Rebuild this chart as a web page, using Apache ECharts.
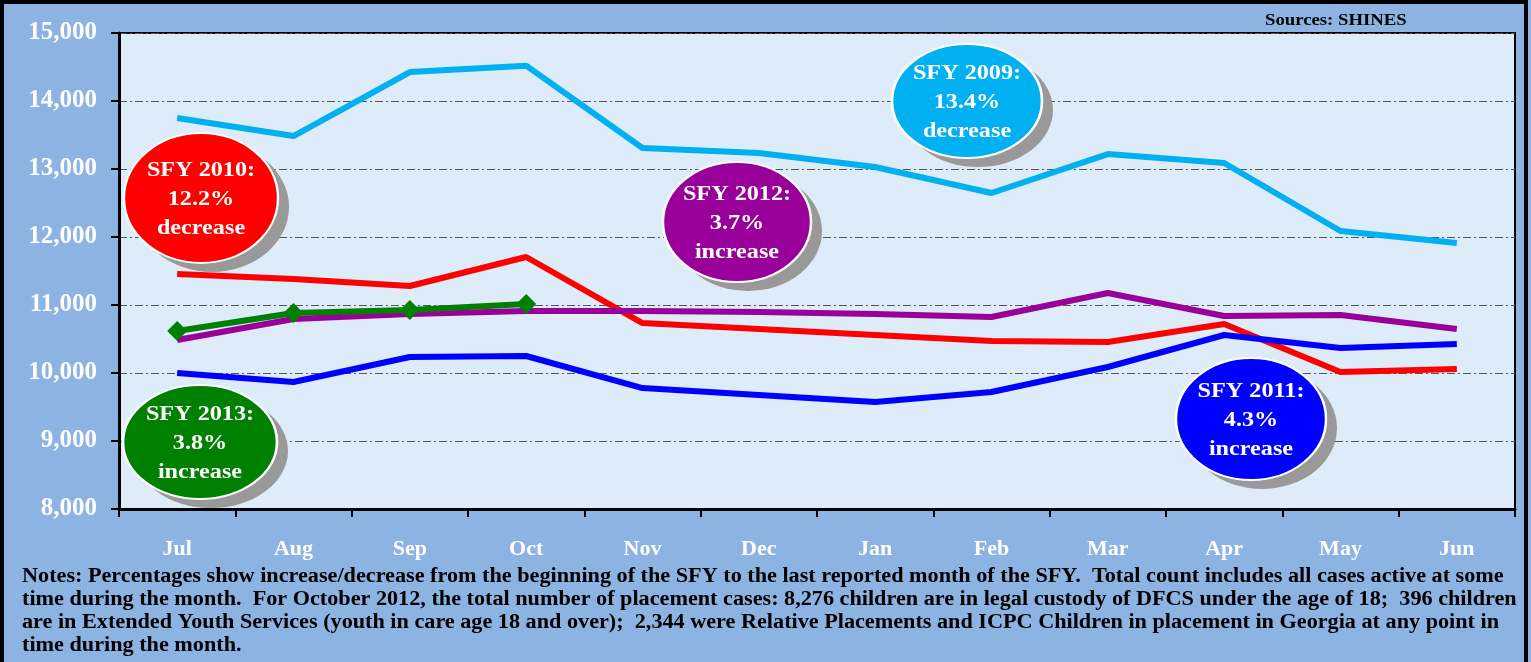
<!DOCTYPE html>
<html><head><meta charset="utf-8">
<script src="https://cdn.jsdelivr.net/npm/echarts@6/dist/echarts.min.js"></script>
<style>html,body{margin:0;padding:0;background:#8DB3E2;}#c{width:1531px;height:662px;}</style>
</head><body><div id="c"></div>
<script>
const months = ['Jul','Aug','Sep','Oct','Nov','Dec','Jan','Feb','Mar','Apr','May','Jun'];
const sfy2009 = [13750,13485,14426,14520,13309,13235,13030,12647,13220,13088,12088,11912];
const sfy2010 = [11456,11382,11279,11706,10735,10647,10559,10471,10456,10721,10015,10059];
const sfy2011 = [10000,9868,10235,10250,9779,9676,9574,9721,10088,10559,10368,10426];
const sfy2012 = [10485,10794,10868,10912,10912,10897,10868,10824,11176,10838,10853,10647];
const sfy2013 = [10618,10882,10926,11015];
const yTicks = [8000,9000,10000,11000,12000,13000,14000,15000];
const notes = [
 'Notes: Percentages show increase/decrease from the beginning of the SFY to the last reported month of the SFY.  Total count includes all cases active at some',
 'time during the month.  For October 2012, the total number of placement cases: 8,276 children are in legal custody of DFCS under the age of 18;  396 children',
 'are in Extended Youth Services (youth in care age 18 and over);  2,344 were Relative Placements and ICPC Children in placement in Georgia at any point in',
 'time during the month.'
];
const bubbles = [
 {lines:['SFY 2009:','13.4%','decrease'], color:'#00B0F0', cx:967, cy:101, rx:75, ry:57},
 {lines:['SFY 2010:','12.2%','decrease'], color:'#FF0000', cx:201, cy:198, rx:77, ry:65},
 {lines:['SFY 2012:','3.7%','increase'], color:'#990099', cx:737, cy:222, rx:74, ry:60},
 {lines:['SFY 2013:','3.8%','increase'], color:'#008000', cx:200, cy:442, rx:77, ry:57},
 {lines:['SFY 2011:','4.3%','increase'], color:'#0000FF', cx:1251, cy:419, rx:75, ry:61}
];
const serif = '"Liberation Serif","DejaVu Serif",serif';
const chart = echarts.init(document.getElementById('c'), null, {renderer:'canvas'});
const graphics = [
 {type:'rect', z:-10, shape:{x:2,y:2,width:1524,height:664}, style:{fill:'#8DB3E2', stroke:'#000', lineWidth:4}, silent:true},
 {type:'text', x:1265, y:13, scaleX:1.17, style:{text:'Sources: SHINES', font:'bold 16px '+serif, fill:'#000'}, z:10}
];
notes.forEach((t,i)=>{
 graphics.push({type:'text', x:22, y:567+i*23, scaleX:1.11, style:{text:t, font:'bold 20px '+serif, fill:'#000'}, z:10});
});
bubbles.forEach(b=>{
 graphics.push({type:'circle', x:b.cx+11, y:b.cy+9, scaleX:b.rx/b.ry, shape:{cx:0,cy:0,r:b.ry}, style:{fill:'#999999'}, z:20});
 graphics.push({type:'circle', x:b.cx, y:b.cy, scaleX:b.rx/b.ry, shape:{cx:0,cy:0,r:b.ry}, style:{fill:b.color, stroke:'#fff', lineWidth:2, strokeNoScale:true}, z:21});
 graphics.push({type:'text', x:b.cx, y:b.cy+1, scaleX:1.1, style:{text:b.lines.join('\n'), font:'bold 22px '+serif, fill:'#fff', align:'center', verticalAlign:'middle', lineHeight:29}, z:22});
});
function line(name,data,color,extra){
 return Object.assign({name, type:'line', data, symbol:'none', lineStyle:{color, width:6}, itemStyle:{color}, z:5, animation:false}, extra||{});
}
chart.setOption({
 animation:false,
 backgroundColor:'#8DB3E2',
 grid:{left:119, right:16, top:33, bottom:153, show:true, backgroundColor:'#DEEBF8', borderColor:'#000', borderWidth:2},
 xAxis:{type:'category', data:months, boundaryGap:true,
  axisLine:{lineStyle:{color:'#000', width:3}},
  axisTick:{show:true, length:8, lineStyle:{color:'#000', width:2}},
  axisLabel:{color:'#fff', fontFamily:serif, fontWeight:'bold', fontSize:22, margin:29}},
 yAxis:{type:'value', min:yTicks[0], max:yTicks[yTicks.length-1], interval:1000,
  axisLine:{show:true, lineStyle:{color:'#000', width:3}},
  axisTick:{show:true, length:8, lineStyle:{color:'#000', width:2}},
  splitLine:{lineStyle:{color:'#555', width:1, type:[8,3,2,3]}},
  axisLabel:{color:'#fff', fontFamily:serif, fontWeight:'bold', fontSize:25, margin:22,
   formatter:v=>v.toLocaleString('en-US')}},
 series:[
  line('SFY 2009', sfy2009, '#00B0F0'),
  line('SFY 2010', sfy2010, '#FF0000'),
  line('SFY 2011', sfy2011, '#0000FF'),
  line('SFY 2012', sfy2012, '#990099'),
  line('SFY 2013', sfy2013, '#008000', {symbol:'diamond', symbolSize:[20,20], showSymbol:true})
 ],
 graphic:graphics
});
</script></body></html>
